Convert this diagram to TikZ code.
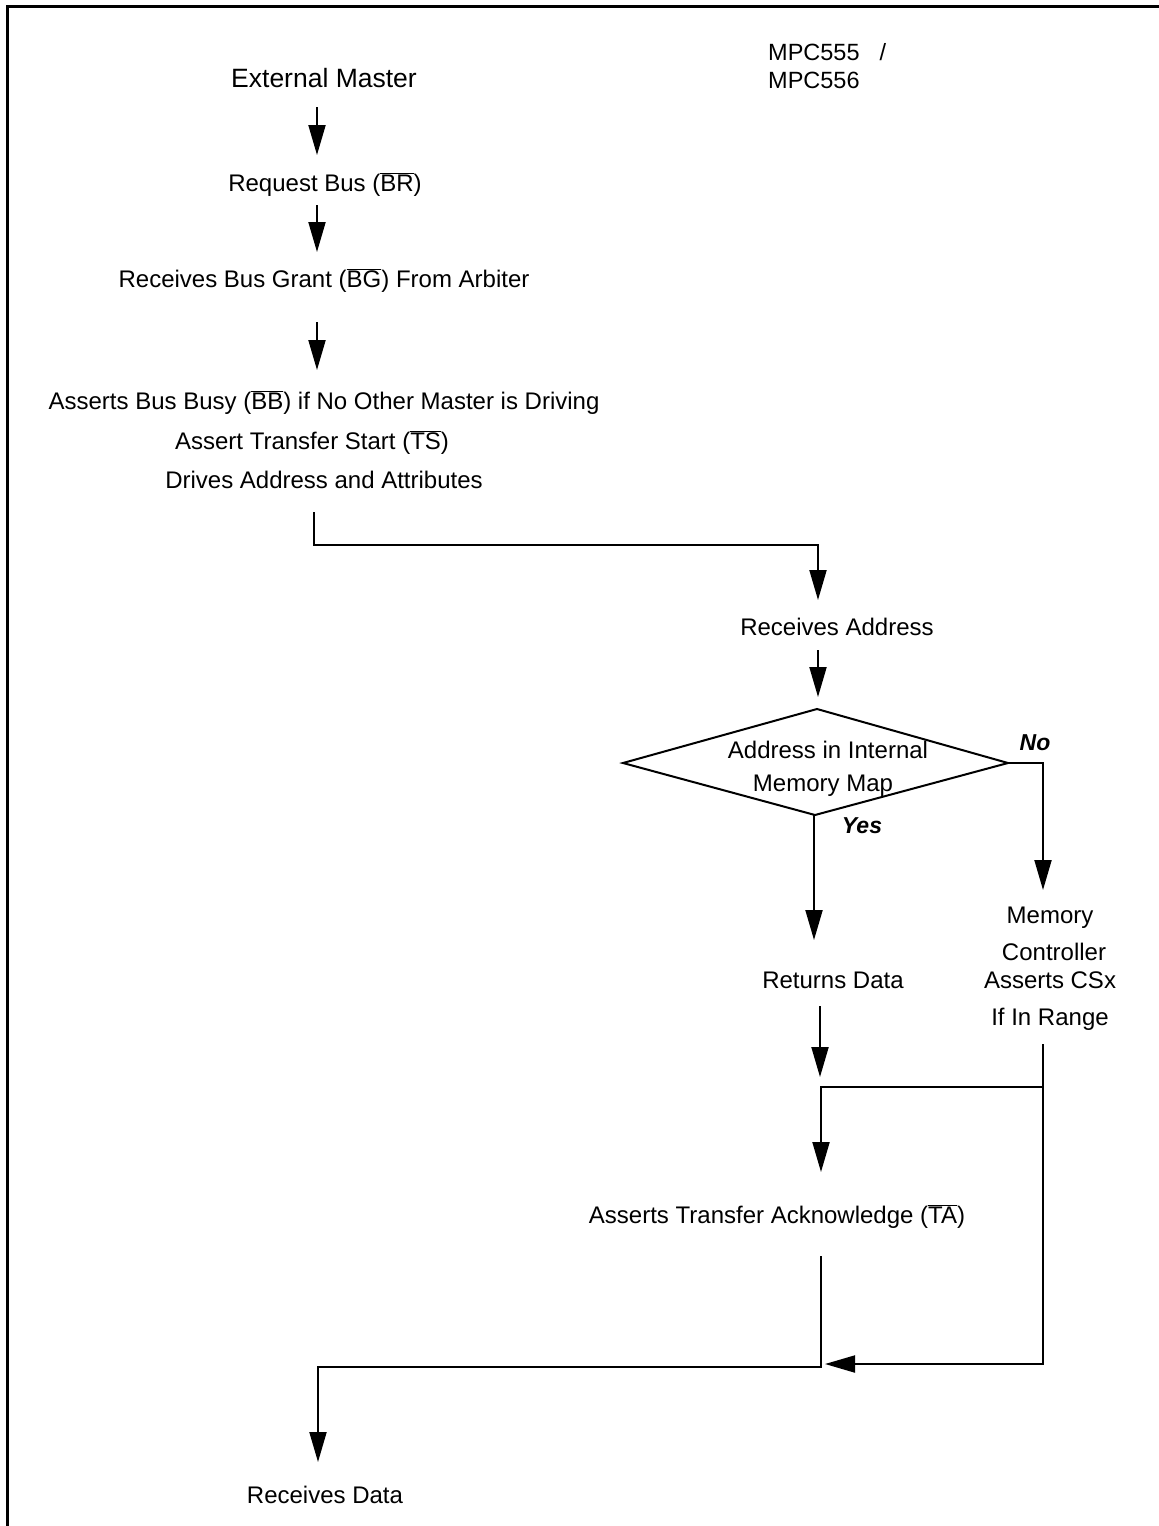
\documentclass[tikz,border=0pt]{standalone}
\usepackage{fontspec}
\setmainfont{Liberation Sans}
\usetikzlibrary{arrows.meta}
\newcommand\ovl[1]{$\overline{\mbox{#1}}$}
\tikzset{
  lbl/.style={font=\fontsize{24}{28}\selectfont, inner sep=0pt, anchor=base},
  biglbl/.style={font=\fontsize{26.5}{30}\selectfont, inner sep=0pt, anchor=base},
  yn/.style={font=\fontsize{23}{26}\selectfont\bfseries\itshape, inner sep=0pt, anchor=base},
  conn/.style={line width=2pt},
  arr/.style={line width=2pt, -{Triangle[width=17pt,length=30pt]}},
  frame/.style={line width=3pt}
}
\begin{document}
\begin{tikzpicture}[x=1pt,y=-1pt]
\useasboundingbox (0,0) rectangle (1159,1526);
\draw[frame] (7,1526) -- (7,6) -- (1159,6);

% texts
\node[biglbl] (em) at (324,87) {External Master};
\node[lbl, font=\fontsize{23.5}{28}\selectfont, anchor=base west] (mpc1) at (768,60) {MPC555\hspace{20pt}/};
\node[lbl, font=\fontsize{23.5}{28}\selectfont, anchor=base west] (mpc2) at (768,88) {MPC556};
\node[lbl] (rb) at (325,191) {Request Bus (\ovl{BR})};
\node[lbl] (bg) at (324,287) {Receives Bus Grant (\ovl{BG}) From Arbiter};
\node[lbl] (bb1) at (324,409) {Asserts Bus Busy (\ovl{BB}) if No Other Master is Driving};
\node[lbl] (bb2) at (312,449) {Assert Transfer Start (\ovl{TS})};
\node[lbl] (bb3) at (324,488) {Drives Address and Attributes};
\node[lbl] (ra) at (837,635) {Receives Address};

% decision diamond
\coordinate (dt) at (817,709);
\coordinate (dl) at (623,763);
\coordinate (dr) at (1008,763);
\coordinate (db) at (815,815);
\draw[conn, line join=miter] (dt) -- (dr) -- (db) -- (dl) -- cycle;
\node[lbl] (dec1) at (828,758) {Address in Internal};
\node[lbl] (dec2) at (823,791) {Memory Map};
\node[yn] (no) at (1035,750) {No};
\node[yn] (yes) at (862,833) {Yes};

\node[lbl] (rd) at (833,988) {Returns Data};
\node[lbl] (mc1) at (1050,923) {Memory};
\node[lbl] (mc2) at (1054,960) {Controller};
\node[lbl] (mc3) at (1050,988) {Asserts CSx};
\node[lbl] (mc4) at (1050,1025) {If In Range};
\node[lbl] (ta) at (777,1223) {Asserts Transfer Acknowledge (\ovl{TA})};
\node[lbl] (rdat) at (325,1503) {Receives Data};

% connector coordinates
\coordinate (em-s) at (317,107);
\coordinate (rb-n) at (317,155);
\coordinate (rb-s) at (317,205);
\coordinate (bg-n) at (317,252);
\coordinate (bg-s) at (317,322);
\coordinate (bb-n) at (317,370);
\coordinate (bb-s) at (314,512);
\coordinate (j1) at (314,545);
\coordinate (j2) at (818,545);
\coordinate (ra-n) at (818,600);
\coordinate (ra-s) at (818,650);
\coordinate (d-n) at (818,697);
\coordinate (j3) at (1043,763);
\coordinate (mc-n) at (1043,890);
\coordinate (yes-e) at (814,815);
\coordinate (rd-n) at (814,940);
\coordinate (rd-s) at (820,1006);
\coordinate (rd-e) at (820,1077);
\coordinate (mc-s) at (1043,1044);
\coordinate (j4) at (1043,1087);
\coordinate (j5) at (821,1087);
\coordinate (ta-n) at (821,1172);
\coordinate (j6) at (1043,1364);
\coordinate (jm) at (825,1364);
\coordinate (ta-s) at (821,1256);
\coordinate (j7) at (821,1367);
\coordinate (j8) at (318,1367);
\coordinate (rdat-n) at (318,1462);

\draw[arr] (em-s) -- (rb-n);
\draw[arr] (rb-s) -- (bg-n);
\draw[arr] (bg-s) -- (bb-n);
\draw[arr] (bb-s) -- (j1) -- (j2) -- (ra-n);
\draw[arr] (ra-s) -- (d-n);
\draw[arr] (dr) -- (j3) -- (mc-n);
\draw[arr] (yes-e) -- (rd-n);
\draw[arr] (rd-s) -- (rd-e);
\draw[conn] (mc-s) -- (j4);
\draw[arr] (j4) -- (j5) -- (ta-n);
\draw[arr] (j4) -- (j6) -- (jm);
\draw[arr] (ta-s) -- (j7) -- (j8) -- (rdat-n);
\end{tikzpicture}
\end{document}
